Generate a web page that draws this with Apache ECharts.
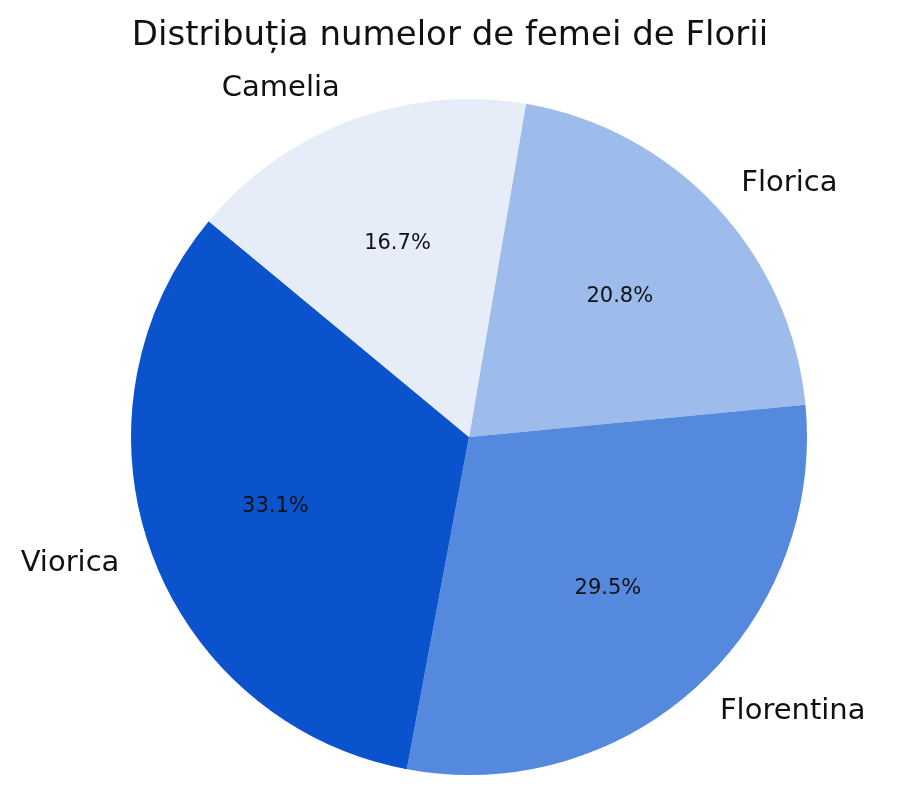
<!DOCTYPE html>
<html>
<head>
<meta charset="utf-8">
<script src="https://cdn.jsdelivr.net/npm/echarts@6/dist/echarts.min.js"></script>
<style>
  html, body { margin: 0; padding: 0; background: #fff; }
  #chart { width: 900px; height: 797px; }
</style>
</head>
<body>
<div id="chart"></div>
<script>
// slices listed clockwise, starting just right of 12 o'clock
var names = ['Florica', 'Florentina', 'Viorica', 'Camelia'];
var shares = [20.8, 29.5, 33.1, 16.7];
var colors = ['#9dbcec', '#5489dd', '#0a53cd', '#e6edf9'];

var R = 338;
var FONT = 'DejaVu Sans';

var chart = echarts.init(document.getElementById('chart'));

var sliceData = names.map(function (n, i) {
  return { name: n, value: shares[i], itemStyle: { color: colors[i] } };
});
var pctData = names.map(function (n, i) {
  return { name: n, value: shares[i] };
});

var option = {
  animation: false,
  title: {
    text: 'Distribuția numelor de femei de Florii',
    left: 'center',
    top: 14,
    textStyle: { fontFamily: FONT, fontSize: 34, fontWeight: 'normal', color: '#111' }
  },
  series: [{
    // the slices, names outside at 1.1 R
    type: 'pie',
    center: [469, 437],
    radius: [0, R],
    startAngle: 80.3,
    clockwise: true,
    silent: true,
    avoidLabelOverlap: false,
    itemStyle: { borderWidth: 0 },
    label: {
      show: true,
      position: 'outside',
      fontFamily: FONT,
      fontSize: 29,
      color: '#111',
      distanceToLabelLine: 0
    },
    labelLine: { show: false, length: R * 0.1, length2: 0 },
    data: sliceData
  }, {
    // invisible helper pie: its inside labels fall at 0.6 R
    type: 'pie',
    center: [469, 437],
    radius: [0, R * 1.2],
    startAngle: 80.3,
    clockwise: true,
    silent: true,
    z: 3,
    itemStyle: { color: 'rgba(0,0,0,0)', borderWidth: 0 },
    label: {
      show: true,
      position: 'inside',
      fontFamily: FONT,
      fontSize: 21,
      color: '#111',
      formatter: function (p) { return p.value.toFixed(1) + '%'; }
    },
    labelLine: { show: false },
    data: pctData
  }]
};
chart.setOption(option);
</script>
</body>
</html>
